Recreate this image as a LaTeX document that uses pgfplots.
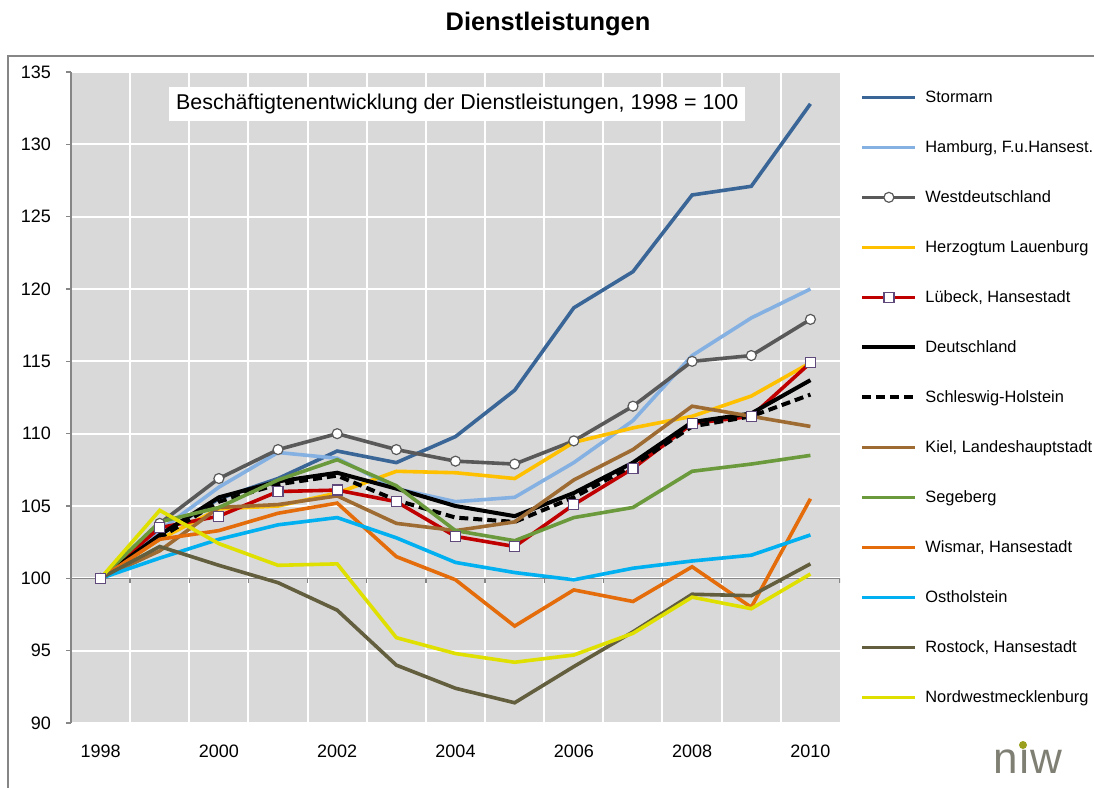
\documentclass[border=0pt]{standalone}
\usepackage{fontspec}
\setmainfont{Liberation Sans}
\usepackage{pgfplots}
\usepackage{pgfplotstable}
\pgfplotsset{compat=1.18}

\definecolor{plotbg}{HTML}{D9D9D9}
\definecolor{axgray}{HTML}{868686}
\definecolor{cSto}{HTML}{3A6597}
\definecolor{cHam}{HTML}{85B0E2}
\definecolor{cWest}{HTML}{595959}
\definecolor{cHerz}{HTML}{FFC000}
\definecolor{cLue}{HTML}{C00000}
\definecolor{cLueMark}{HTML}{604A7B}
\definecolor{cKiel}{HTML}{9E6B33}
\definecolor{cSeg}{HTML}{6B9A3C}
\definecolor{cWis}{HTML}{E46C0A}
\definecolor{cOst}{HTML}{00B0F0}
\definecolor{cRos}{HTML}{625E3E}
\definecolor{cNwm}{HTML}{E0E000}
\definecolor{logogray}{HTML}{7F7F74}
\definecolor{logogreen}{HTML}{9AA01E}

% Beschaeftigte Dienstleistungen, 1998 = 100
\pgfplotstableread{
year  Sto   Ham   West  Herz  Lue   De    SH    Kiel  Seg   Wis   Ost   Ros   Nwm
1998  100   100   100   100   100   100   100   100   100   100   100   100   100
1999  103.0 103.3 103.8 102.7 103.5 103.0 102.8 101.9 103.9 102.7 101.4 102.2 104.7
2000  105.5 106.3 106.9 104.8 104.3 105.6 105.3 104.9 104.9 103.3 102.7 100.9 102.4
2001  106.9 108.7 108.9 105.0 106.0 106.7 106.5 105.1 106.8 104.5 103.7 99.7  100.9
2002  108.8 108.3 110.0 105.9 106.1 107.3 107.1 105.7 108.2 105.2 104.2 97.8  101.0
2003  108.0 106.2 108.9 107.4 105.3 106.2 105.4 103.8 106.4 101.5 102.8 94.0  95.9
2004  109.8 105.3 108.1 107.3 102.9 105.0 104.2 103.3 103.3 99.9  101.1 92.4  94.8
2005  113.0 105.6 107.9 106.9 102.2 104.3 103.9 103.9 102.6 96.7  100.4 91.4  94.2
2006  118.7 108.0 109.5 109.4 105.1 105.9 105.6 106.8 104.2 99.2  99.9  93.9  94.7
2007  121.2 110.9 111.9 110.4 107.6 108.0 107.8 108.9 104.9 98.4  100.7 96.3  96.2
2008  126.5 115.4 115.0 111.2 110.7 110.8 110.5 111.9 107.4 100.8 101.2 98.9  98.7
2009  127.1 118.0 115.4 112.6 111.2 111.4 111.2 111.2 107.9 98.0  101.6 98.8  97.9
2010  132.8 120.0 117.9 114.9 114.9 113.7 112.7 110.5 108.5 105.5 103.0 101.0 100.3
}\dienst

\begin{document}
\begin{tikzpicture}
\path[use as bounding box] (0,0) rectangle (547pt,-394pt);
\draw[axgray, line width=0.7pt] (4pt,-394pt) -- (4pt,-28pt) -- (547pt,-28pt);
\node[font=\fontsize{12.7}{14}\selectfont\bfseries] at (274pt,-12pt) {Dienstleistungen};

\begin{axis}[
  at={(35.5pt,-361.5pt)}, anchor=south west,
  scale only axis, width=384.5pt, height=325.5pt,
  xmin=1997.5, xmax=2010.5, ymin=90, ymax=135,
  axis background/.style={fill=plotbg},
  axis y line*=left, axis x line*=bottom,
  x axis line style={draw=none},
  y axis line style={-, draw=axgray, line width=0.7pt},
  xtick={1998,2000,...,2010},
  xticklabels={1998,2000,2002,2004,2006,2008,2010},
  minor xtick={1998.5,1999.5,...,2009.5},
  xtick style={draw=none},
  minor x tick style={draw=none},
  xminorgrids=true, xmajorgrids=false,
  minor x grid style={white, line width=1pt},
  ytick={90,95,...,135},
  ytick style={draw=axgray, line width=0.7pt},
  tick align=outside, major tick length=2.5pt,
  ymajorgrids=true,
  major y grid style={white, line width=1pt},
  ticklabel style={font=\fontsize{9}{10}\selectfont},
  /pgf/number format/assume math mode=true,
  yticklabel style={xshift=-4pt},
  xticklabel style={yshift=-5pt},
  legend cell align=left,
  legend style={at={(1.026,0.974)}, anchor=north west, draw=none, fill=none,
    inner sep=0pt, font=\fontsize{8.2}{10}\selectfont,
    row sep=17pt, column sep=4pt,
    nodes={inner sep=0pt, text height=6.5pt, text depth=1.5pt}},
  legend image code/.code={\draw[mark repeat=2, mark phase=2] plot coordinates {(0pt,0pt)(13.25pt,0pt)(26.5pt,0pt)};},
  every axis plot/.append style={line width=1.8pt},
]
\draw[axgray, line width=0.7pt] (axis cs:1997.5,100) -- (axis cs:2010.5,100);
\pgfplotsinvokeforeach{1998.5,1999.5,...,2010.5}{
  \draw[axgray, line width=0.7pt] (axis cs:#1,100) -- ++(0pt,-2.5pt);
}

\addplot[cSto] table[x=year, y=Sto] {\dienst};
\addlegendentry{Stormarn}
\addplot[cHam] table[x=year, y=Ham] {\dienst};
\addlegendentry{Hamburg, F.u.Hansest.}
\addplot[cWest, mark=*, mark size=2.5pt, mark options={fill=white, draw=cWest, line width=0.6pt}] table[x=year, y=West] {\dienst};
\addlegendentry{Westdeutschland}
\addplot[cHerz] table[x=year, y=Herz] {\dienst};
\addlegendentry{Herzogtum Lauenburg}
\addplot[cLue, mark=square*, mark size=2.5pt, mark options={fill=white, draw=cLueMark, line width=0.6pt}] table[x=year, y=Lue] {\dienst};
\addlegendentry{Lübeck, Hansestadt}
\addplot[black, line width=2pt] table[x=year, y=De] {\dienst};
\addlegendentry{Deutschland}
\addplot[black, line width=2pt, dash pattern=on 4.5pt off 2.5pt] table[x=year, y=SH] {\dienst};
\addlegendentry{Schleswig-Holstein}
\addplot[cKiel] table[x=year, y=Kiel] {\dienst};
\addlegendentry{Kiel, Landeshauptstadt}
\addplot[cSeg] table[x=year, y=Seg] {\dienst};
\addlegendentry{Segeberg}
\addplot[cWis] table[x=year, y=Wis] {\dienst};
\addlegendentry{Wismar, Hansestadt}
\addplot[cOst] table[x=year, y=Ost] {\dienst};
\addlegendentry{Ostholstein}
\addplot[cRos] table[x=year, y=Ros] {\dienst};
\addlegendentry{Rostock, Hansestadt}
\addplot[cNwm] table[x=year, y=Nwm] {\dienst};
\addlegendentry{Nordwestmecklenburg}

\node[fill=white, inner sep=3.5pt, font=\fontsize{10.7}{12}\selectfont] at (axis cs:2004.03,132.8) {Beschäftigtenentwicklung der Dienstleistungen, 1998 = 100};
\end{axis}

\node[text=logogray, font=\fontsize{22}{22}\selectfont] at (514pt,-381pt) {n\i w};
\fill[logogreen] (511.5pt,-372.5pt) circle (2pt);
\end{tikzpicture}
\end{document}
